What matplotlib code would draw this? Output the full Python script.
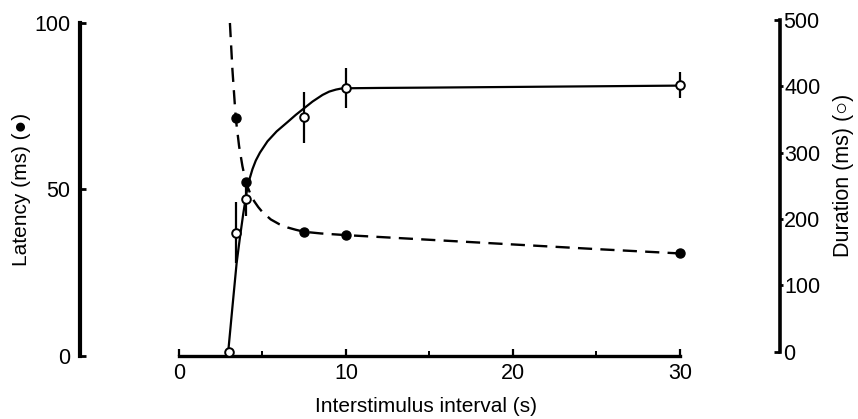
import matplotlib.pyplot as plt

plt.rcParams['font.family'] = ['Liberation Sans', 'DejaVu Sans']

# measured points
isi_latency = [3.4, 4.0, 7.5, 10, 30]
latency = [71.4, 52.3, 37.3, 36.3, 30.8]

isi_duration = [3.0, 3.4, 4.0, 7.5, 10, 30]
duration = [0, 179, 230, 353, 397, 402]
duration_err = [0, 46, 25, 39, 30, 19]

# hand-drawn fitted curves
latency_curve_x = [3.05, 3.2, 3.4, 3.6, 3.8, 4.0, 4.25, 4.5, 4.75, 5.0, 5.5, 6.0, 6.5, 7.0, 7.5,
                   8.5, 10, 15, 20, 25, 30]
latency_curve_y = [100, 86, 71.4, 63, 57, 52.3, 49.0, 46.5, 44.7, 43.2, 41.0, 39.6, 38.6, 37.9, 37.3,
                   36.8, 36.3, 34.9, 33.5, 32.1, 30.8]

duration_curve_x = [2.95, 3.2, 3.45, 3.65, 3.85, 4.05, 4.2, 4.4, 4.6, 4.85, 5.3, 5.85, 6.5, 7.0, 7.5,
                    8.0, 8.6, 9.0, 9.4, 9.7, 10, 12, 15, 20, 25, 30]
duration_curve_y = [0, 67, 133, 172, 208, 240, 258, 275, 288, 300, 317, 332, 346, 357, 367,
                    377, 387, 392, 395, 396.5, 397, 397.5, 398, 399, 400, 401]

fig = plt.figure(figsize=(8.58, 4.19), dpi=100)
ax = fig.add_axes([80 / 858, 59 / 419, 700 / 858, 345 / 419])
ax2 = ax.twinx()

ax.set_xlim(-5.93, 36.0)
ax.set_ylim(-1.2, 102.4)
ax2.set_ylim(-12.8, 507.5)

# latency: dashed curve, filled circles
line, = ax.plot(latency_curve_x, latency_curve_y, color='k', lw=1.7, clip_on=False)
line.set_dashes([6, 3.5])
ax.plot(isi_latency, latency, 'o', color='k', ms=6.5, clip_on=False, zorder=3)

# duration: solid curve, open circles with error bars
ax2.plot(duration_curve_x, duration_curve_y, color='k', lw=1.6, clip_on=False)
ax2.errorbar(isi_duration, duration, yerr=duration_err, fmt='none', ecolor='k',
             elinewidth=1.6, capsize=0, clip_on=False)
ax2.plot(isi_duration, duration, 'o', mfc='white', mec='k', mew=1.4, ms=6.2,
         clip_on=False, zorder=4)

# spines
for s in ['top', 'right']:
    ax.spines[s].set_visible(False)
ax.spines['left'].set_linewidth(3.0)
ax.spines['left'].set_bounds(0, 100)
ax.spines['bottom'].set_position(('data', 0))
ax.spines['bottom'].set_linewidth(2.4)
ax.spines['bottom'].set_bounds(0, 30)

for s in ['top', 'left', 'bottom']:
    ax2.spines[s].set_visible(False)
ax2.spines['right'].set_linewidth(2.6)
ax2.spines['right'].set_bounds(0, 500)

# x ticks
ax.set_xticks([0, 10, 20, 30])
ax.set_xticks([5, 15, 25], minor=True)
ax.tick_params(axis='x', which='major', direction='in', length=5, width=1.6,
               labelsize=15.5, pad=5)
ax.tick_params(axis='x', which='minor', direction='in', length=3.5, width=1.4)

# left y ticks
ax.set_yticks([0, 50, 100])
ax.tick_params(axis='y', which='major', direction='in', length=4, width=2,
               labelsize=15.5, pad=7)

# right y ticks: ends point inward, middle ones outward
ax2.set_yticks([0, 500])
ax2.set_yticks([100, 200, 300, 400], labels=['100', '200', '300', '400'], minor=True)
ax2.tick_params(axis='y', which='major', direction='in', length=4, width=2,
                labelsize=15.5, pad=2)
ax2.tick_params(axis='y', which='minor', direction='out', length=2.5, width=2,
                labelsize=15.5, pad=0.5)

ax.set_xlabel('Interstimulus interval (s)', fontsize=15, va='center')
ax.xaxis.set_label_coords(0.494, -0.136)
ax.set_ylabel('Latency (ms) (\u25cf)', fontsize=15, va='center')
ax.yaxis.set_label_coords(-0.083, 0.493)
ax2.set_ylabel('Duration (ms) (\u25cb)', fontsize=15.5, va='center', rotation=90)
ax2.yaxis.set_label_coords(1.091, 0.536)

fig.savefig('out.png', dpi=100)
